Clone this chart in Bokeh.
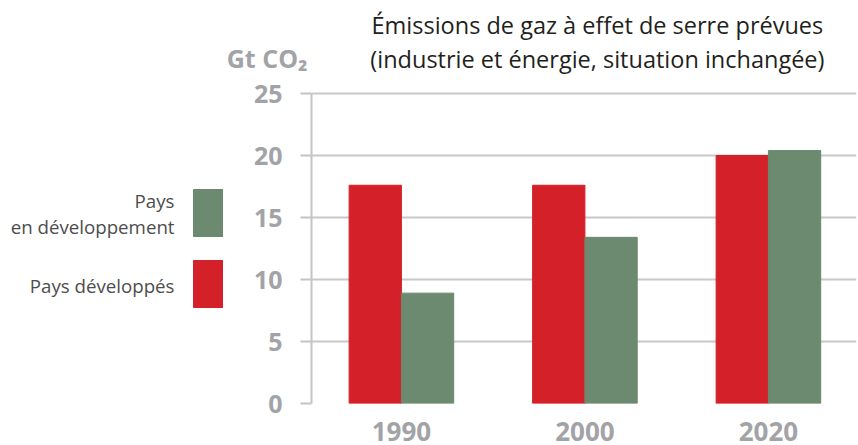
from bokeh.plotting import figure
from bokeh.models import Range1d, FixedTicker, ColumnDataSource, LinearAxis
from bokeh.layouts import row
from bokeh.embed import file_html
from bokeh.resources import INLINE
from bokeh.core.properties import value

# ---- data ----
years = ["1990", "2000", "2020"]
developed = [17.6, 17.6, 20.0]      # Pays développés
developing = [8.9, 13.4, 20.4]      # Pays en développement
y_ticks = [0, 5, 10, 15, 20, 25]
title_lines = ["Émissions de gaz à effet de serre prévues",
               "(industrie et énergie, situation inchangée)"]
unit_label = "Gt CO₂"
legend_labels = ["Pays", "en développement", "Pays développés"]

RED = "#d42129"
GREEN = "#6b8a6f"
GRAY = "#a2a3a6"
FONT = "Open Sans"

H = 445
LEG_W = 223
MAIN_W = 858 - LEG_W
BOTTOM = 42
FRAME_BOTTOM = H - BOTTOM          # 403 px from top
PX_PER_UNIT = 12.4

# ---- legend figure (pixel coordinates, y measured from top) ----
leg = figure(width=LEG_W, height=H, x_range=Range1d(0, LEG_W), y_range=Range1d(FRAME_BOTTOM, 0),
             output_backend="svg", toolbar_location=None, title=None,
             min_border_left=0, min_border_right=0, min_border_top=0, min_border_bottom=BOTTOM)
leg.axis.visible = False
leg.grid.visible = False
leg.outline_line_color = None
leg.quad(left=[193], right=[223], top=[189], bottom=[236], color=GREEN)
leg.quad(left=[193], right=[223], top=[260], bottom=[307], color=RED)
leg.text(x=[174, 174, 174], y=[200, 226, 285], text=legend_labels,
         text_align="right", text_baseline="middle", text_font=value(FONT),
         text_font_size="18.7px", text_color="#4d4d4d")

# ---- main figure ----
xs = list(range(len(years)))
src = ColumnDataSource(dict(
    x_red=[x - 0.1425 for x in xs], x_green=[x + 0.1425 for x in xs],
    developed=developed, developing=developing))

y_top = FRAME_BOTTOM / PX_PER_UNIT
p = figure(width=MAIN_W, height=H, x_range=Range1d(-0.49, 2.48), y_range=Range1d(0, y_top),
           output_backend="svg", toolbar_location=None, title=None,
           min_border_left=311 - LEG_W, min_border_right=2, min_border_top=0, min_border_bottom=BOTTOM)
p.outline_line_color = None
p.extra_y_ranges = {"px": Range1d(0, FRAME_BOTTOM)}

p.vbar(x="x_red", top="developed", width=0.285, source=src, color=RED)
p.vbar(x="x_green", top="developing", width=0.285, source=src, color=GREEN)

p.xgrid.visible = False
p.ygrid.ticker = FixedTicker(ticks=y_ticks)
p.ygrid.grid_line_color = "#c8c8c8"
p.ygrid.grid_line_width = 2
p.ygrid.level = "underlay"

ya = p.yaxis[0]
ya.ticker = FixedTicker(ticks=y_ticks)
ya.bounds = (0, 25)
ya.axis_line_color = "#c4c4c4"
ya.axis_line_width = 2
ya.major_tick_line_color = "#c4c4c4"
ya.major_tick_line_width = 2
ya.major_tick_in = 0
ya.major_tick_out = 11
ya.minor_tick_line_color = None
ya.major_label_text_font = FONT
ya.major_label_text_font_style = "bold"
ya.major_label_text_font_size = "25px"
ya.major_label_text_color = GRAY
ya.major_label_standoff = 18

# unit label as a tick label of an outer axis
unit_tick = FRAME_BOTTOM - 57
ua = LinearAxis(y_range_name="px", ticker=FixedTicker(ticks=[unit_tick]),
                major_label_overrides={unit_tick: unit_label})
ua.axis_line_color = None
ua.major_tick_line_color = None
ua.minor_tick_line_color = None
ua.major_tick_in = 0
ua.major_tick_out = 0
ua.major_label_standoff = -57
ua.major_label_text_font = FONT
ua.major_label_text_font_style = "bold"
ua.major_label_text_font_size = "25px"
ua.major_label_text_color = GRAY
p.add_layout(ua, "left")

xa = p.xaxis[0]
xa.ticker = FixedTicker(ticks=xs)
xa.major_label_overrides = {i: y for i, y in enumerate(years)}
xa.axis_line_color = None
xa.major_tick_line_color = None
xa.minor_tick_line_color = None
xa.major_label_text_font = FONT
xa.major_label_text_font_style = "bold"
xa.major_label_text_font_size = "26px"
xa.major_label_text_color = GRAY
xa.major_label_standoff = 12

# title lines (inside the frame, above the 25 line)
p.text(x=[1.068, 1.068],
       y=[(FRAME_BOTTOM - 24) / PX_PER_UNIT, (FRAME_BOTTOM - 58) / PX_PER_UNIT],
       text=title_lines, text_align="center", text_baseline="middle",
       text_font=value(FONT), text_font_size="23.5px", text_color="#231f20")

layout = row(leg, p, spacing=0)
open("out.html", "w").write(file_html(layout, INLINE))
